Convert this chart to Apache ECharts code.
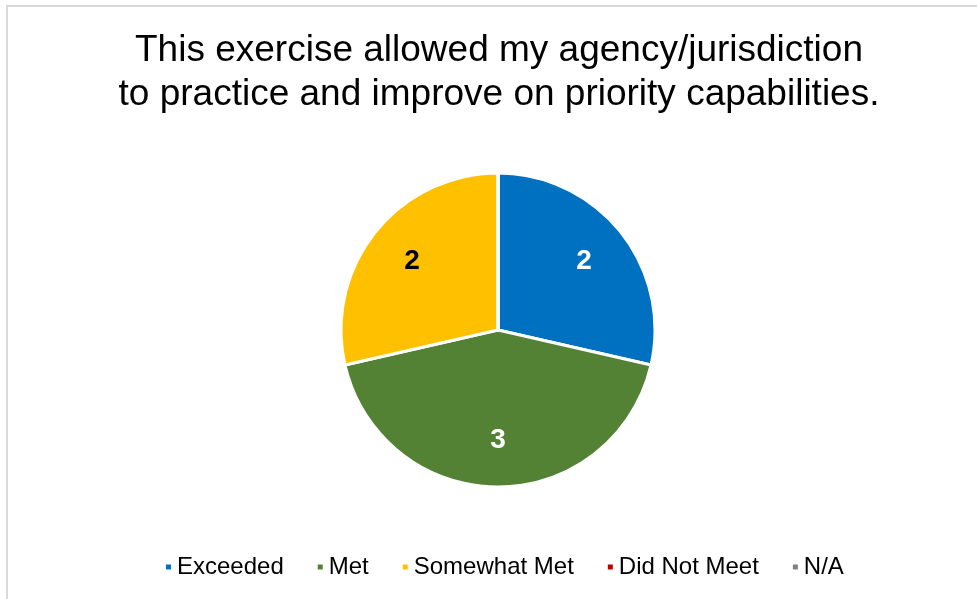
<!DOCTYPE html>
<html>
<head>
<meta charset="utf-8">
<script src="https://cdn.jsdelivr.net/npm/echarts@6/dist/echarts.min.js"></script>
<style>html,body{margin:0;padding:0;background:#fff}#c{width:977px;height:599px}</style>
</head>
<body>
<div id="c"></div>
<script>
var categories = ['Exceeded', 'Met', 'Somewhat Met', 'Did Not Meet', 'N/A'];
var values = [2, 3, 2, 0, 0];
var colors = ['#0070C0', '#548235', '#FFC000', '#C00000', '#808080'];
var labelColors = ['#ffffff', '#ffffff', '#000000', '#ffffff', '#ffffff'];
var titleText = 'This exercise allowed my agency/jurisdiction\nto practice and improve on priority capabilities.';

var chart = echarts.init(document.getElementById('c'));
var R = 157;
var data = categories.map(function (n, i) {
  return { name: n, value: values[i], itemStyle: { color: colors[i] } };
});
var labelData = categories.map(function (n, i) {
  return { name: n, value: values[i], itemStyle: { color: 'rgba(0,0,0,0)' },
    label: { color: labelColors[i] } };
});
chart.setOption({
  animation: false,
  title: {
    text: titleText, left: 494, top: 24, textAlign: 'center',
    textStyle: { fontFamily: 'Liberation Sans', fontSize: 37, fontWeight: 'normal', color: '#000', lineHeight: 44 }
  },
  legend: {
    data: categories, bottom: 15, left: 159,
    icon: 'rect', itemWidth: 7, itemHeight: 7,
    itemGap: 32,
    textStyle: { fontFamily: 'Liberation Sans', fontSize: 24, color: '#000' }
  },
  graphic: [{
    type: 'rect', silent: true,
    shape: { x: 7, y: 6, width: 1100, height: 1100 },
    style: { fill: 'none', stroke: '#d9d9d9', lineWidth: 2 }
  }],
  series: [{
    type: 'pie', center: [498, 330], radius: [0, R], startAngle: 90, clockwise: true,
    label: { show: false }, labelLine: { show: false }, emphasis: { disabled: true },
    itemStyle: { borderColor: '#fff', borderWidth: 3 },
    data: data
  }, {
    type: 'pie', center: [498, 330], radius: [R * 0.363, R], startAngle: 90, clockwise: true,
    silent: true, legendHoverLink: false,
    label: {
      show: true, position: 'inside', fontFamily: 'Liberation Sans', fontSize: 28, fontWeight: 'bold',
      formatter: function (p) { return p.value ? String(p.value) : ''; }
    },
    labelLine: { show: false }, emphasis: { disabled: true },
    itemStyle: { borderWidth: 0 },
    data: labelData
  }]
});
</script>
</body>
</html>
